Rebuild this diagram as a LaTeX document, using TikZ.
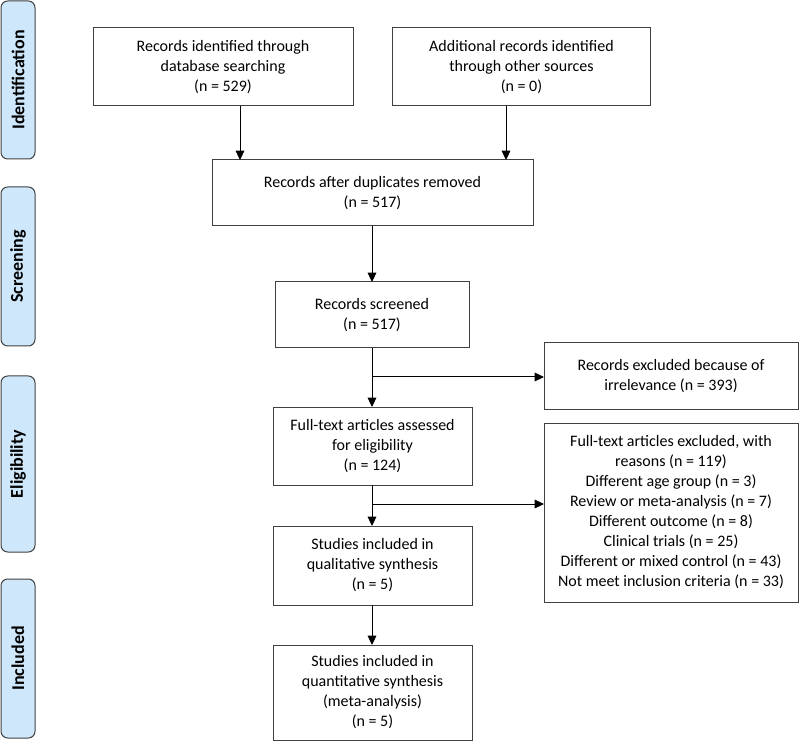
\documentclass[tikz,border=0pt]{standalone}
\usepackage{fontspec}
\setmainfont{Carlito}
\usetikzlibrary{arrows.meta}

\definecolor{sidefill}{RGB}{207,231,250}
\definecolor{linegray}{RGB}{64,64,64}

\tikzset{
  box/.style = {draw = linegray, line width = .75pt, inner sep = 0pt, outer sep = 0pt,
    align = center, font = \fontsize{12}{15}\selectfont},
  sidebox/.style = {draw = linegray, fill = sidefill, line width = .75pt, rounded corners = 5pt,
    rotate = 90, inner sep = 0pt, outer sep = 0pt, minimum height = 25.5pt,
    font = \fontsize{13.5}{15}\selectfont\bfseries},
  arr/.style = {draw = black, line width = .75pt, -{Triangle[length = 7pt, width = 6.5pt]}},
  ln/.style = {draw = black, line width = .75pt}
}

\begin{document}
\begin{tikzpicture}[x = .75pt, y = -.75pt]

\useasboundingbox (0, 0) rectangle (800, 752);

% side labels
\node[sidebox, minimum width = 118.5pt] (ident-lab) at (18, 80) {Identification};
\node[sidebox, minimum width = 119.25pt] (screen-lab) at (18, 266.5) {Screening};
\node[sidebox, minimum width = 132pt] (elig-lab) at (18, 464) {Eligibility};
\node[sidebox, minimum width = 119.25pt] (incl-lab) at (18, 658.5) {Included};

% identification
\node[box, minimum width = 195pt, minimum height = 58.5pt] (ident) at (223, 67)
  {Records identified through\\database searching\\(n = 529)};
\node[box, minimum width = 194pt, minimum height = 58.5pt] (addit) at (521.5, 67)
  {Additional records identified\\through other sources\\(n = 0)};

% screening
\node[box, minimum width = 240.75pt, minimum height = 49.5pt] (dup) at (372.5, 193)
  {Records after duplicates removed\\(n = 517)};
\node[box, minimum width = 145.5pt, minimum height = 49.5pt] (screened) at (372, 315)
  {Records screened\\(n = 517)};
\node[box, minimum width = 190.5pt, minimum height = 49.5pt] (excl) at (671, 376)
  {Records excluded because of\\irrelevance (n = 393)};

% eligibility
\node[box, minimum width = 149.25pt, minimum height = 58.5pt] (fulltext) at (372.5, 446)
  {Full-text articles assessed\\for eligibility\\(n = 124)};
\node[box, minimum width = 190.5pt, minimum height = 134.25pt] (reasons) at (671, 512.5)
  {Full-text articles excluded, with\\reasons (n = 119)\\Different age group (n = 3)\\
   Review or meta-analysis (n = 7)\\Different outcome (n = 8)\\Clinical trials (n = 25)\\
   Different or mixed control (n = 43)\\Not meet inclusion criteria (n = 33)};

% included
\node[box, minimum width = 149.25pt, minimum height = 59.25pt] (qual) at (372.5, 565.5)
  {Studies included in\\qualitative synthesis\\(n = 5)};
\node[box, minimum width = 149.25pt, minimum height = 71.25pt] (quant) at (372.5, 692.5)
  {Studies included in\\quantitative synthesis\\(meta-analysis)\\(n = 5)};

% arrows
\coordinate (a1) at (240, 0);
\coordinate (a2) at (506, 0);
\coordinate (b1) at (372, 377);
\coordinate (b2) at (372, 504);

\draw[arr] (a1 |- ident.south) -- (a1 |- dup.north);
\draw[arr] (a2 |- addit.south) -- (a2 |- dup.north);
\draw[arr] (dup.south -| screened.north) -- (screened.north);
\draw[arr] (screened.south) -- (fulltext.north -| screened.south);
\draw[arr] (b1) -- (excl.west |- b1);
\draw[arr] (fulltext.south -| b2) -- (qual.north -| b2);
\draw[arr] (b2) -- (reasons.west |- b2);
\draw[arr] (qual.south -| b2) -- (quant.north -| b2);

\end{tikzpicture}
\end{document}
